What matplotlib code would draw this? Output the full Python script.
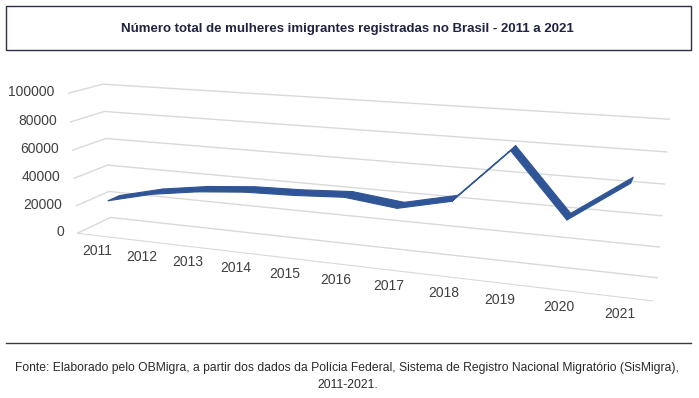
import numpy as np
import matplotlib.pyplot as plt
from matplotlib.patches import Rectangle
from matplotlib.lines import Line2D
from mpl_toolkits.mplot3d.art3d import Poly3DCollection

plt.rcParams['font.family'] = ['Liberation Sans', 'DejaVu Sans']

# dados
anos = ['2011', '2012', '2013', '2014', '2015', '2016',
        '2017', '2018', '2019', '2020', '2021']
mulheres = [22000, 30000, 35000, 38000, 39000, 41000,
            37000, 45000, 80000, 40000, 66000]
z_ticks = [0, 20000, 40000, 60000, 80000, 100000]

titulo = 'Número total de mulheres imigrantes registradas no Brasil - 2011 a 2021'
fonte = ('Fonte: Elaborado pelo OBMigra, a partir dos dados da Polícia Federal, '
         'Sistema de Registro Nacional Migratório (SisMigra),\n2011-2021.')

cor_linha = '#2F5597'
cor_grade = '#D9D9D9'
cor_texto = '#404040'

fig = plt.figure(figsize=(6.99, 3.98), dpi=100)

# caixa do titulo
fig.patches.append(Rectangle((0.008, 0.875), 0.98, 0.11, transform=fig.transFigure,
                             fill=False, edgecolor='#2B2F4A', linewidth=1.0))
fig.text(0.497, 0.928, titulo, ha='center', va='center', fontsize=9.5,
         fontweight='bold', color='#1F2440')

# grafico 3d
ax = fig.add_axes([-0.007, 0.165, 1.0, 0.74], projection='3d',
                  proj_type='persp', focal_length=0.66)
ax.view_init(elev=14.2, azim=-70)
ax.set_box_aspect((11, 1.2, 2.8), zoom=2.06)

x = np.arange(len(anos)) + 0.5
y0, y1 = 0.32, 0.68
faixas = []
for i in range(len(anos) - 1):
    faixas.append([(x[i], y0, mulheres[i]), (x[i + 1], y0, mulheres[i + 1]),
                   (x[i + 1], y1, mulheres[i + 1]), (x[i], y1, mulheres[i])])
fita = Poly3DCollection(faixas, facecolor=cor_linha, edgecolor=cor_linha,
                        linewidth=0.8)
fita.set_clip_on(False)
ax.add_collection3d(fita)

ax.set_xlim(0, len(anos))
ax.set_ylim(0, 1)
ax.set_zlim(0, 100000)
ax.set_xticks(x)
ax.set_xticklabels(anos)
ax.set_yticks([])
ax.set_zticks(z_ticks)
ax.set_zticklabels([''] * len(z_ticks))
ax.zaxis.set_tick_params(labelleft=False, labelright=False)
for t in z_ticks:
    ax.text(-0.3, 0, t, str(t), ha='right', va='center', fontsize=10,
            color=cor_texto)

for eixo in (ax.xaxis, ax.yaxis, ax.zaxis):
    eixo.set_pane_color((1, 1, 1, 0))
    eixo.pane.set_edgecolor('none')
    eixo._axinfo['tick']['inward_factor'] = 0
    eixo._axinfo['tick']['outward_factor'] = 0
    eixo.label.set_visible(False)
    eixo.offsetText.set_visible(False)
ax.xaxis._axinfo['grid']['color'] = (1, 1, 1, 0)
ax.yaxis._axinfo['grid']['color'] = (1, 1, 1, 0)
ax.zaxis._axinfo['grid']['color'] = cor_grade
ax.zaxis._axinfo['grid']['linewidth'] = 1.0
ax.xaxis.line.set_color(cor_grade)
ax.yaxis.line.set_color('none')
ax.zaxis.line.set_color('none')
ax.tick_params(axis='x', labelsize=10, labelcolor=cor_texto, pad=-2)

# fonte
fig.lines.append(Line2D([0.008, 0.988], [0.137, 0.137], transform=fig.transFigure,
                        color='#3A3A3A', linewidth=1.0))
fig.text(0.497, 0.055, fonte, ha='center', va='center', fontsize=8.7,
         color='#2B2B2B', linespacing=1.55)

fig.savefig('out.png', dpi=100)
